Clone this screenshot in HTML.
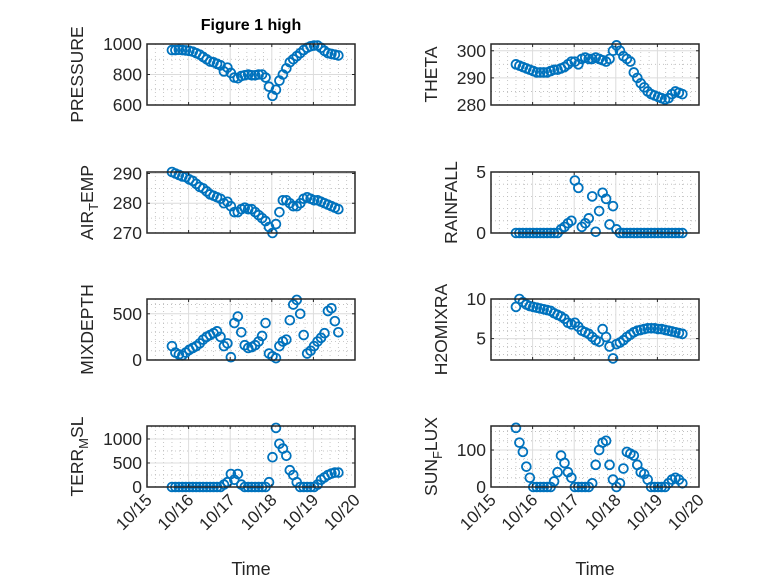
<!DOCTYPE html>
<html><head><meta charset="utf-8"><style>
html,body{margin:0;padding:0;background:#fff;}
svg{display:block;font-family:"Liberation Sans","DejaVu Sans",sans-serif;}
</style></head><body>
<svg id="fig" width="778" height="583" viewBox="0 0 778 583" xmlns="http://www.w3.org/2000/svg">
<rect width="778" height="583" fill="#fff"/>
<text x="251" y="30" text-anchor="middle" font-size="16" font-weight="bold" fill="#000">Figure 1 high</text>
</svg>
<script>
// time axis: days after 10/15 00:00, 2-hourly samples
const tStart = 0.6, tStep = 1/12;
const xTickLabels = ["10/15","10/16","10/17","10/18","10/19","10/20"];
const pressure = [960,960,962,960,958,955,950,940,930,915,900,885,880,870,860,820,845,810,780,775,790,795,800,795,795,800,800,780,720,660,700,760,800,840,880,900,920,940,960,975,985,990,990,975,955,940,935,930,925];
const theta = [295,294.5,294,293.5,293,292.5,292,292,292,292,292.5,293,293,293.5,294,295,296,296,295,297,297.5,297,297,297.5,297,296.5,296,297,300,302,300,298,297,296,292,290,288,286.5,285,284,283.5,283,282.5,282,282.5,284,285,284.5,284];
const airTemp = [290.5,290,289.5,289,288.8,288,287.5,286.5,285.5,285,284,283,282.5,282,281.5,280,280.5,279,277,277,278,278.5,278,278,277,276,275,274,272,270,273,277,281,281,280,279,279,280,281.5,282,281.5,281,281,280.5,280,279.5,279,278.5,278];
const rainfall = [0,0,0,0,0,0,0,0,0,0,0,0,0,0.3,0.5,0.8,1.0,4.3,3.7,0.5,0.8,1.2,3.0,0.1,1.8,3.3,2.8,0.7,2.2,0.3,0,0,0,0,0,0,0,0,0,0,0,0,0,0,0,0,0,0,0];
const mixDepth = [150,80,60,50,80,110,130,150,180,220,250,270,290,310,250,150,180,30,400,470,300,160,130,140,160,200,260,400,70,40,20,150,200,220,430,600,650,500,270,70,100,150,200,240,290,530,560,420,300];
const h2oMix = [9,10,9.6,9.3,9.1,9,8.9,8.8,8.7,8.6,8.5,8.2,8,7.8,7.5,7,6.8,7,6.5,6,5.8,5.6,5.2,4.8,4.6,6.2,5.2,4,2.5,4.3,4.5,4.8,5.2,5.5,5.8,6,6.1,6.2,6.3,6.3,6.3,6.2,6.2,6.1,6,5.9,5.8,5.7,5.6];
const terrMsl = [0,0,0,0,0,0,0,0,0,0,0,0,0,0,0,50,100,270,150,270,50,0,0,0,0,0,0,0,100,620,1230,900,800,650,350,250,100,0,0,0,0,0,50,150,200,250,280,300,300];
const sunFlux = [160,120,95,55,25,0,0,0,0,0,0,15,40,85,65,40,25,0,0,0,0,0,10,60,100,120,125,60,20,0,10,50,95,90,85,60,40,35,20,0,0,0,0,0,10,20,25,20,10];

const NS = "http://www.w3.org/2000/svg";
const svg = document.getElementById('fig');
function mk(tag, attrs, parent){const e=document.createElementNS(NS,tag);for(const k in attrs)e.setAttribute(k,attrs[k]);(parent||svg).appendChild(e);return e;}

const colX = [147, 491];
const rowY = [44, 172, 299, 426];
const W = 208, H = 61;
const panels = [
 {name:"pressure", label:[["PRESSURE"]], data:pressure, ylim:[600,1000], ticks:[600,800,1000], minor:100, col:0,row:0},
 {name:"theta", label:[["THETA"]], data:theta, ylim:[280,302.5], ticks:[280,290,300], minor:5, col:1,row:0},
 {name:"air-temp", label:[["AIR"],["T",1],["EMP"]], data:airTemp, ylim:[270,290.5], ticks:[270,280,290], minor:5, col:0,row:1},
 {name:"rainfall", label:[["RAINFALL"]], data:rainfall, ylim:[0,5], ticks:[0,5], minor:1, col:1,row:1},
 {name:"mixdepth", label:[["MIXDEPTH"]], data:mixDepth, ylim:[0,660], ticks:[0,500], minor:100, col:0,row:2},
 {name:"h2o-mixra", label:[["H2OMIXRA"]], data:h2oMix, ylim:[2.3,10], ticks:[5,10], minor:1, col:1,row:2},
 {name:"terr-msl", label:[["TERR"],["M",1],["SL"]], data:terrMsl, ylim:[0,1270], ticks:[0,500,1000], minor:250, col:0,row:3},
 {name:"sun-flux", label:[["SUN"],["F",1],["LUX"]], data:sunFlux, ylim:[0,165], ticks:[0,100], minor:25, col:1,row:3},
];

panels.forEach(p=>{
  const x0=colX[p.col], y0=rowY[p.row];
  const g=mk('g',{});
  
  
  const xs=d=>x0+d/5*W;
  const ys=v=>y0+H-(v-p.ylim[0])/(p.ylim[1]-p.ylim[0])*H;
  mk('rect',{x:x0,y:y0,width:W,height:H,fill:'#fff'},g);
  for(let d=0; d<=5; d+=0.2){ if(Math.abs(d-Math.round(d))<1e-6) continue;
    mk('line',{x1:xs(d),x2:xs(d),y1:y0,y2:y0+H,stroke:'#b8b8b8','stroke-width':0.8,'stroke-dasharray':'1,3'},g);}
  for(let v=Math.ceil(p.ylim[0]/p.minor)*p.minor; v<=p.ylim[1]; v+=p.minor){ if(p.ticks.includes(v)) continue;
    mk('line',{x1:x0,x2:x0+W,y1:ys(v),y2:ys(v),stroke:'#b8b8b8','stroke-width':0.8,'stroke-dasharray':'1,3'},g);}
  for(let d=1; d<5; d++) mk('line',{x1:xs(d),x2:xs(d),y1:y0,y2:y0+H,stroke:'#dcdcdc','stroke-width':1},g);
  p.ticks.forEach(v=>mk('line',{x1:x0,x2:x0+W,y1:ys(v),y2:ys(v),stroke:'#dcdcdc','stroke-width':1},g));
  const pts=mk('g',{},g);
  
  
  p.data.forEach((v,i)=>{
    const c=mk('circle',{cx:xs(tStart+i*tStep),cy:ys(v),r:4.4,fill:'none',stroke:'#0072BD','stroke-width':1.8},pts);
    
    
  });
  mk('rect',{x:x0,y:y0,width:W,height:H,fill:'none',stroke:'#262626','stroke-width':1.5},g);
  for(let d=0; d<=5; d++){
    mk('line',{x1:xs(d),x2:xs(d),y1:y0+H,y2:y0+H-3,stroke:'#262626','stroke-width':1},g);
    mk('line',{x1:xs(d),x2:xs(d),y1:y0,y2:y0+3,stroke:'#262626','stroke-width':1},g);
  }
  let maxLen=0;
  p.ticks.forEach(v=>{
    maxLen=Math.max(maxLen,String(v).length);
    mk('line',{x1:x0,x2:x0+3,y1:ys(v),y2:ys(v),stroke:'#262626','stroke-width':1},g);
    mk('line',{x1:x0+W,x2:x0+W-3,y1:ys(v),y2:ys(v),stroke:'#262626','stroke-width':1},g);
    const t=mk('text',{x:x0-5,y:ys(v)+6,'text-anchor':'end','font-size':17.5,fill:'#262626'},g);
    t.textContent=v;
    
    
  });
  const lx = x0 - (24 + maxLen*10);
  const yl=mk('text',{x:0,y:0,'text-anchor':'middle','font-size':17.5,fill:'#262626',transform:`translate(${lx},${y0+H/2}) rotate(-90)`},g);
  
  
  p.label.forEach(part=>{
    const ts=mk('tspan',{},yl); ts.textContent=part[0];
    if(part[1]){ts.setAttribute('dy','5');ts.setAttribute('font-size','13');}
    else if(yl.childNodes.length>1){ts.setAttribute('dy','-5');}
  });
  if(p.row===3){
    xTickLabels.forEach((s,d)=>{
      const t=mk('text',{x:0,y:0,'text-anchor':'end','font-size':17,fill:'#262626',transform:`translate(${xs(d)+6},${y0+H+14}) rotate(-45)`},g);
      t.textContent=s;
      
      
    });
    const xl=mk('text',{x:x0+W/2,y:575,'text-anchor':'middle','font-size':18,fill:'#262626'},g);
    xl.textContent='Time';
    
    
  }
});
</script>
</body></html>
